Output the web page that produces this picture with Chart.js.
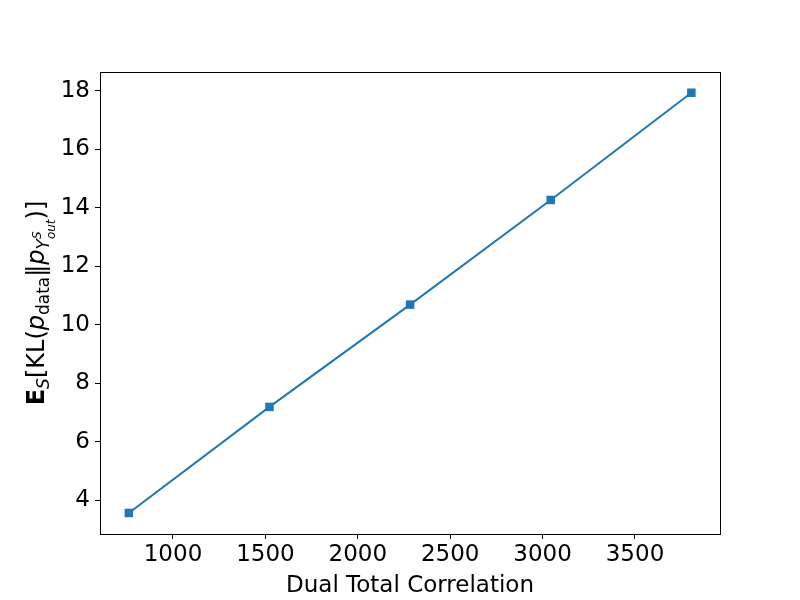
<!DOCTYPE html>
<html>
<head>
<meta charset="utf-8">
<script src="https://cdn.jsdelivr.net/npm/chart.js@4/dist/chart.umd.min.js"></script>
<style>
  html, body { margin: 0; padding: 0; background: #fff; }
  #chart { display: block; }
</style>
</head>
<body>
<canvas id="chart" width="800" height="600"></canvas>
<script>
const dualTotalCorrelation = [761, 1522, 2283, 3044, 3805];
const expectedKL = [3.56, 7.19, 10.69, 14.27, 17.94];
const xTicks = [1000, 1500, 2000, 2500, 3000, 3500];
const yTicks = [4, 6, 8, 10, 12, 14, 16, 18];
const xTitle = 'Dual Total Correlation';

const lineColor = '#1f77b4';
const fontFamily = '"DejaVu Sans", sans-serif';
const fontSize = 23;

// y label is mathtext in the original, so draw it piece by piece
const yLabelParts = [
  { text: 'E', font: 'bold 24px', dy: 0 },
  { text: 'S', font: 'italic 17px', dy: 5 },
  { text: '[KL(', font: '24px', dy: 0 },
  { text: 'p', font: 'italic 24px', dy: 0 },
  { text: 'data', font: '17px', dy: 5 },
  { text: '\u2016', font: '24px', dy: 0 },
  { text: 'p', font: 'italic 24px', dy: 0 },
  { text: 'Y', font: 'italic 17px', dy: 5 },
  { text: 'S', font: 'italic 12px', dy: -3 },
  { text: 'out', font: 'italic 12px', dy: 11, sameX: true },
  { text: ')]', font: '24px', dy: 0 }
];

const framePlugin = {
  id: 'frame',
  afterDraw(chart) {
    const { ctx, chartArea } = chart;
    ctx.save();
    ctx.strokeStyle = '#000';
    ctx.lineWidth = 1;
    ctx.strokeRect(chartArea.left + 0.5, chartArea.top + 0.5,
      chartArea.right - chartArea.left, chartArea.bottom - chartArea.top);

    // y title
    const widths = yLabelParts.map(p => {
      ctx.font = p.font + ' ' + fontFamily;
      return ctx.measureText(p.text).width;
    });
    let pos = 0, lastStart = 0;
    const xs = [];
    yLabelParts.forEach((p, i) => {
      if (p.sameX) {
        xs.push(lastStart);
        pos = Math.max(pos, lastStart + widths[i]);
      } else {
        xs.push(pos);
        lastStart = pos;
        pos += widths[i];
      }
    });
    const total = pos;
    const cy = (chartArea.top + chartArea.bottom) / 2;
    ctx.translate(44, cy);
    ctx.rotate(-Math.PI / 2);
    ctx.fillStyle = '#000';
    ctx.textBaseline = 'alphabetic';
    yLabelParts.forEach((p, i) => {
      ctx.font = p.font + ' ' + fontFamily;
      ctx.fillText(p.text, xs[i] - total / 2, p.dy);
    });
    ctx.restore();
  }
};

new Chart(document.getElementById('chart'), {
  type: 'line',
  data: {
    datasets: [{
      data: dualTotalCorrelation.map((x, i) => ({ x: x, y: expectedKL[i] })),
      borderColor: lineColor,
      backgroundColor: lineColor,
      borderWidth: 2,
      pointStyle: 'rect',
      pointRadius: 6,
      pointBorderWidth: 0,
      tension: 0
    }]
  },
  options: {
    responsive: false,
    animation: false,
    layout: { padding: { top: 72, right: 80, left: 0, bottom: 0 } },
    plugins: { legend: { display: false }, tooltip: { enabled: false } },
    scales: {
      x: {
        type: 'linear',
        min: 605,
        max: 3960,
        afterBuildTicks: s => { s.ticks = xTicks.map(v => ({ value: v })); },
        afterFit: s => { s.height = 66; },
        grid: { drawOnChartArea: false, tickLength: 5, color: '#000', tickColor: '#000' },
        border: { display: false },
        ticks: { color: '#000', padding: 2, maxRotation: 0, callback: v => String(v), font: { family: fontFamily, size: fontSize } },
        title: { display: true, text: xTitle, color: '#000', padding: { top: 0, bottom: 0 }, font: { family: fontFamily, size: fontSize } }
      },
      y: {
        type: 'linear',
        min: 2.84,
        max: 18.65,
        afterBuildTicks: s => { s.ticks = yTicks.map(v => ({ value: v })); },
        afterFit: s => { s.width = 100; },
        grid: { drawOnChartArea: false, tickLength: 5, color: '#000', tickColor: '#000' },
        border: { display: false },
        ticks: { color: '#000', padding: 5, callback: v => String(v), font: { family: fontFamily, size: fontSize } }
      }
    }
  },
  plugins: [framePlugin]
});
</script>
</body>
</html>
